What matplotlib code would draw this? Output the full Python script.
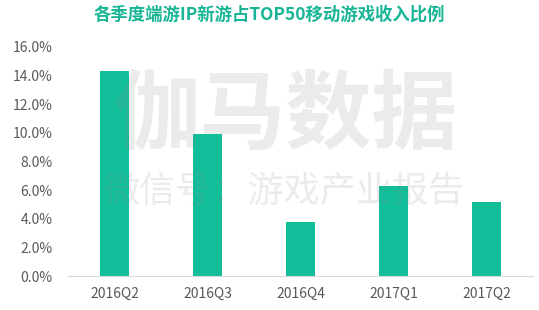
import matplotlib
matplotlib.use("Agg")
from matplotlib import pyplot as plt
from matplotlib.ticker import FuncFormatter

plt.rcParams['font.family'] = ['Noto Sans CJK SC', 'DejaVu Sans']

quarters = ["2016Q2", "2016Q3", "2016Q4", "2017Q1", "2017Q2"]
share = [14.3, 9.9, 3.8, 6.3, 5.2]
yticks = [0, 2, 4, 6, 8, 10, 12, 14, 16]
title = "各季度端游IP新游占TOP50移动游戏收入比例"

teal = "#12BE9A"

fig = plt.figure(figsize=(5.39, 3.10), dpi=100)
ax = fig.add_axes([68/539, 1 - 276/310, (533-68)/539, (276-47)/310])

ax.bar(range(len(quarters)), share, width=0.31, color=teal, zorder=2)
ax.set_xlim(-0.5, len(quarters) - 0.5)
ax.set_ylim(0, 16)
ax.set_yticks(yticks)
ax.yaxis.set_major_formatter(FuncFormatter(lambda v, p: "%.1f%%" % v))
ax.set_xticks(range(len(quarters)))
ax.set_xticklabels(quarters)
ax.tick_params(length=0, labelsize=10, colors="#595959", pad=8)
ax.tick_params(axis='y', pad=11)
for s in ["left", "right", "top"]:
    ax.spines[s].set_visible(False)
ax.spines["bottom"].set_color("#d9d9d9")

# watermark
fig.text(286/539, 1 - 116/310, "伽马数据", fontsize=62, color="#888888", alpha=0.16,
         ha="center", va="center", fontweight="bold", zorder=5)
fig.text(284/539, 1 - 192/310, "微信号：游戏产业报告", fontsize=26, color="#888888", alpha=0.16,
         ha="center", va="center", zorder=5)

fig.text(0.5, 1 - 15/310, title, fontsize=12.5, color="#17B596", fontweight="bold",
         ha="center", va="center")

fig.savefig("out.png", dpi=100)
